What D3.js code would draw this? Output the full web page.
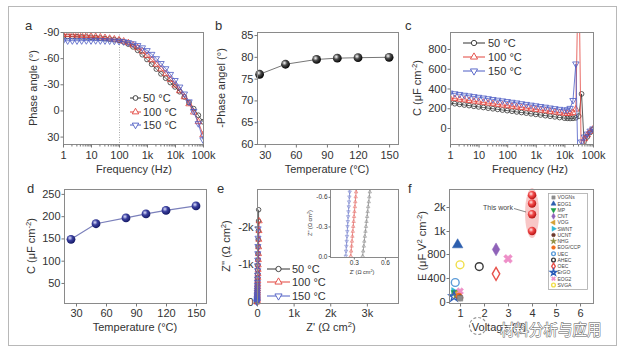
<!DOCTYPE html>
<html><head><meta charset="utf-8">
<script src="https://cdn.jsdelivr.net/npm/d3@7"></script>
<style>
body{margin:0;background:#fff}
svg{display:block}
</style></head><body>
<svg id="chart" width="625" height="353"></svg>
<script>
// ---------- DATA ----------
// panel a: phase angle vs frequency
const freqA = [1,1.468,2.154,3.162,4.642,6.813,10,14.68,21.54,31.62,46.42,68.13,100,146.8,215.4,316.2,464.2,681.3,1000,1468,2154,3162,4642,6813,10000,14678,21544,31623,46416,68129,100000];
const phase50 = [-85.0,-84.9,-84.8,-84.6,-84.4,-84.2,-83.9,-83.5,-83.0,-82.4,-81.8,-81.2,-80.5,-78.6,-76.1,-73.0,-69.0,-64.0,-58.5,-53.0,-47.5,-42.0,-37.0,-32.0,-27.0,-21.5,-15.5,-9.0,-2.0,5.5,13.0];
const phase100 = [-87.0,-86.8,-86.6,-86.3,-86.0,-85.6,-85.2,-84.7,-84.1,-83.4,-82.6,-81.8,-80.8,-79.4,-77.5,-75.0,-71.8,-67.8,-63.0,-58.0,-52.8,-47.5,-42.0,-35.5,-29.0,-22.5,-15.5,-7.5,2.0,13.0,28.0];
const phase150 = [-79.8,-80.0,-80.1,-80.0,-80.1,-80.2,-80.1,-80.2,-80.1,-80.0,-79.9,-79.7,-79.4,-78.9,-78.0,-76.6,-74.6,-72.0,-68.8,-64.5,-59.5,-54.0,-48.0,-41.5,-34.5,-27.0,-19.0,-10.0,1.0,15.0,33.5];
// panel b: -phase angle vs temperature
const tempB = [25,50,80,100,120,150];
const phaseB = [76.0,78.3,79.4,79.7,79.8,79.9];
// panel c: capacitance vs frequency
const freqC = [1,1.468,2.154,3.162,4.642,6.813,10,14.68,21.54,31.62,46.42,68.13,100,146.8,215.4,316.2,464.2,681.3,1000,1468,2154,3162,4642,6813,10000,12589,15849,19953,25119,31623,39811,50119,63096,79433,100000];
const cap50 = [252,246,240,233,227,220,214,208,201,195,189,182,176,170,163,157,151,144,138,132,125,119,113,106,100,98,97,98,103,120,345,-220,-90,-45,-15];
const cap100 = [303,297,290,284,277,271,264,258,251,245,238,232,225,219,213,206,200,193,187,180,174,167,161,154,148,146,147,155,190,1800,-600,-110,-70,-35,-12];
const cap150 = [355,348,341,333,326,319,312,305,298,290,283,276,269,262,255,247,240,233,226,219,212,204,197,190,183,185,200,280,650,-700,-140,-90,-60,-30,-8];
// panel d: capacitance vs temperature
const tempD = [25,50,80,100,120,150];
const capD = [148,183,196,205,213,223];
// panel e: Nyquist
const zRe50 = [45,41,37,34,31,28,25,23,21,19,17,15,13,12,10,9,8,7,6,5,4,3,2,1.5,1,0.5,0.3];
const zIm50 = [-2450,-2150,-1890,-1660,-1460,-1280,-1120,-980,-860,-750,-650,-560,-480,-410,-350,-295,-245,-200,-160,-125,-95,-70,-48,-30,-15,-5,0];
const zRe100 = [60,55,50,45,41,37,33,30,27,24,21,19,17,15,13,11,9,8,7,6,5,4,3,2,1,0.3];
const zIm100 = [-2150,-1890,-1660,-1460,-1280,-1120,-980,-860,-750,-650,-560,-480,-410,-350,-295,-245,-200,-160,-125,-95,-70,-48,-30,-15,-5,0];
const zRe150 = [30,27,24,22,20,18,16,14,12,11,10,9,8,7,6,5,4,3.5,3,2.5,2,1.5,1,0.5,0.2];
const zIm150 = [-1950,-1700,-1480,-1290,-1120,-970,-840,-720,-620,-530,-450,-380,-320,-265,-218,-178,-142,-110,-82,-58,-38,-22,-10,-3,0];
// panel e inset
const zImIn = [0,-0.05,-0.1,-0.15,-0.2,-0.25,-0.3,-0.35,-0.4,-0.45,-0.5,-0.55,-0.6,-0.65,-0.7];
const zReIn50 = [0.385,0.390,0.396,0.401,0.406,0.412,0.417,0.422,0.428,0.433,0.438,0.444,0.449,0.454,0.460];
const zReIn100 = [0.270,0.274,0.278,0.282,0.286,0.290,0.294,0.298,0.302,0.306,0.310,0.314,0.318,0.322,0.326];
const zReIn150 = [0.222,0.225,0.228,0.231,0.234,0.237,0.239,0.242,0.245,0.248,0.251,0.254,0.257,0.260,0.263];
// panel f: energy vs voltage
const legendNames = ["VOGNs","EOG1","MP","CNT","VOG","SWNT","UCNT","NHG","EOG/CCP","UEC","AHEC","OEC","ErGO","EOG2","SVGA"];
const refSeries = ["UEC","SWNT","MP","NHG","VOG","EOG2","ErGO","EOG/CCP","UCNT","VOGNs","EOG1","CNT","AHEC","OEC","EOG2","SVGA"];
const refVoltage = [0.8,0.75,0.8,0.85,0.9,1.0,0.75,0.95,1.0,1.0,0.9,2.5,1.8,2.5,3.0,1.0];
const refEnergy = [325,170,150,120,140,180,90,100,70,60,880,840,590,470,720,620];
const workVoltage = [4,4,4,4];
const workEnergy = [2500,2150,1700,1000];
// tick labels
const ticksPhaseA = [-90,-60,-30,0,30];
const ticksFreq = [1,10,100,1000,10000,100000];
const freqLabels = ["1","10","100","1k","10k","100k"];
const ticksTemp = [30,60,90,120,150];
const ticksPhaseB = [60,65,70,75,80,85];
const ticksCapC = [0,200,400,600,800];
const ticksCapD = [50,100,150,200,250];
const ticksZRe = [0,1000,2000,3000];
const zReLabels = ["0","1k","2k","3k"];
const ticksZIm = [0,-1000,-2000];
const zImLabels = ["0","-1k","-2k"];
const ticksInX = [0.3,0.6];
const ticksInY = [0,-0.3,-0.6];
const ticksV = [1,2,3,4,5,6];
const ticksE = [0,400,800,1000,2000];
const eLabels = ["0","400","800","1k","2k"];
const seriesNames = ["50 °C","100 °C","150 °C"];

// ---------- DRAWING ----------
const FONT = "'Liberation Sans', Arial, Helvetica, sans-serif";
const TXT = "#333";
const FS = 11;
const svg = d3.select("#chart").attr("font-family", FONT);
const defs = svg.append("defs");

svg.append("rect").attr("x",8.5).attr("y",6.5).attr("width",608).attr("height",339)
  .attr("fill","none").attr("stroke","#b8b8b8");

function grad(id, c0, c1, c2){
  const g = defs.append("radialGradient").attr("id",id).attr("cx","38%").attr("cy","35%").attr("r","65%");
  g.append("stop").attr("offset","0%").attr("stop-color",c0);
  g.append("stop").attr("offset","45%").attr("stop-color",c1);
  g.append("stop").attr("offset","100%").attr("stop-color",c2);
}
grad("gBlack","#ffffff","#4a4a4a","#050505");
grad("gNavy","#e0e3ff","#3a3f9e","#151a66");
grad("gRed","#ffe6e6","#f24a4a","#b81515");

function clip(id,x0,y0,x1,y1){
  defs.append("clipPath").attr("id",id).append("rect").attr("x",x0).attr("y",y0).attr("width",x1-x0).attr("height",y1-y0);
}
function box(x0,y0,x1,y1){
  svg.append("rect").attr("x",x0+.5).attr("y",y0+.5).attr("width",x1-x0).attr("height",y1-y0)
    .attr("fill","none").attr("stroke","#8a8a8a").attr("stroke-width",1);
}
function styleAxis(g, fs){
  g.select(".domain").remove();
  g.selectAll(".tick line").attr("stroke","#777");
  g.selectAll(".tick text").attr("font-size",fs||FS).attr("fill",TXT).attr("font-family",FONT);
}
function axisBottom(scale,y,vals,labels,minor,fs,size,pad){
  const g = svg.append("g").attr("transform",`translate(0,${y+0.5})`)
    .call(d3.axisBottom(scale).tickValues(vals).tickFormat((d,i)=>labels?labels[i]:d).tickSize(size||3).tickPadding(pad==null?4:pad));
  styleAxis(g,fs);
  if(minor){
    const m = svg.append("g").attr("transform",`translate(0,${y+0.5})`)
      .call(d3.axisBottom(scale).tickValues(minor).tickFormat(()=>"").tickSize(2));
    styleAxis(m);
  }
}
function axisLeft(scale,x,vals,labels,fs,size,pad){
  const g = svg.append("g").attr("transform",`translate(${x+0.5},0)`)
    .call(d3.axisLeft(scale).tickValues(vals).tickFormat((d,i)=>labels?labels[i]:d).tickSize(size||3).tickPadding(pad==null?1:pad));
  styleAxis(g,fs);
}
function txt(x,y,parts,o){
  o = o||{};
  const size = o.size||FS;
  const t = svg.append("text").attr("font-size",size).attr("text-anchor",o.anchor||"middle").attr("fill",o.fill||TXT);
  if(o.rotate) t.attr("transform",`translate(${x},${y}) rotate(-90)`); else t.attr("x",x).attr("y",y);
  let shifted=false;
  parts.forEach(p=>{
    if(typeof p==="object"){ t.append("tspan").attr("dy",-size*0.4).attr("font-size",size*0.7).text(p.sup); shifted=true; }
    else { const s=t.append("tspan").text(p); if(shifted){ s.attr("dy",size*0.4); shifted=false; } }
  });
  return t;
}
const minorLog = [];
for(let k=0;k<5;k++) for(let m=2;m<10;m++) minorLog.push(m*Math.pow(10,k));

const symCircle = d3.symbol().type(d3.symbolCircle);
const symTri = d3.symbol().type(d3.symbolTriangle);
const sStyles = [
  {c:"#333333", gen:symCircle, rot:0},
  {c:"#e2443d", gen:symTri, rot:0},
  {c:"#4d5cc4", gen:symTri, rot:180}
];

function drawSeries(g, xs, ys, xS, yS, st, size, sw, lineColor){
  const pts = xs.map((x,i)=>[xS(x), yS(ys[i])]);
  g.append("path").attr("d", d3.line()(pts)).attr("fill","none").attr("stroke",lineColor||st.c).attr("stroke-width",0.8);
  g.selectAll(null).data(pts).enter().append("path")
    .attr("d", st.gen.size(size)())
    .attr("transform", d=>`translate(${d[0]},${d[1]}) rotate(${st.rot})`)
    .attr("fill","none").attr("stroke",st.c).attr("stroke-width",sw||0.8);
}
function legendRow(x0,x1,xt,y,st,label,size){
  svg.append("line").attr("x1",x0).attr("x2",x1).attr("y1",y).attr("y2",y).attr("stroke",st.c).attr("stroke-width",1);
  svg.append("path").attr("d",st.gen.size(size||22)()).attr("transform",`translate(${(x0+x1)/2},${y}) rotate(${st.rot})`)
    .attr("fill","#fff").attr("stroke",st.c).attr("stroke-width",0.9);
  txt(xt,y+4,[label],{anchor:"start"});
}

// ===== Panel a =====
{
  const x = d3.scaleLog().domain([1,1e5]).range([63,203]);
  const y = d3.scaleLinear().domain([-90,38.5]).range([32,144]);
  clip("clipA",63,32,203,144);
  svg.append("line").attr("x1",x(100)+0.5).attr("x2",x(100)+0.5).attr("y1",32).attr("y2",144)
    .attr("stroke","#aaa").attr("stroke-dasharray","1,1.5");
  const g = svg.append("g").attr("clip-path","url(#clipA)");
  [phase50,phase100,phase150].forEach((s,i)=>drawSeries(g,freqA,s,x,y,sStyles[i],18,0.8));
  box(63,32,203,144);
  axisBottom(x,144,ticksFreq,freqLabels,minorLog);
  axisLeft(y,63,ticksPhaseA,null);
  seriesNames.forEach((n,i)=>legendRow(130,141,143,[98,112,125][i],sStyles[i],n,18));
  txt(25,30,["a"],{anchor:"start",size:13});
  txt(37,88,["Phase angle (°)"],{rotate:true});
  txt(134,173,["Frequency (Hz)"]);
}

// ===== Panel b =====
{
  const x = d3.scaleLinear().domain([22.5,158.6]).range([257,398]);
  const y = d3.scaleLinear().domain([60,85.7]).range([144,32]);
  const pts = tempB.map((t,i)=>[x(t),y(phaseB[i])]);
  svg.append("path").attr("d",d3.line()(pts)).attr("fill","none").attr("stroke","#777").attr("stroke-width",1);
  svg.selectAll(null).data(pts).enter().append("circle").attr("cx",d=>d[0]).attr("cy",d=>d[1]).attr("r",4.4).attr("fill","url(#gBlack)");
  box(257,32,398,144);
  axisBottom(x,144,ticksTemp,null);
  axisLeft(y,257,ticksPhaseB,null);
  txt(215,30,["b"],{anchor:"start",size:13});
  txt(225,88,["-Phase angel (°)"],{rotate:true});
  txt(327,173,["Temperature (°C)"]);
}

// ===== Panel c =====
{
  const x = d3.scaleLog().domain([1,1e5]).range([450,593]);
  const y = d3.scaleLinear().domain([-162,972]).range([144,32]);
  clip("clipC",450,32,593,144);
  const g = svg.append("g").attr("clip-path","url(#clipC)");
  [cap50,cap100,cap150].forEach((s,i)=>drawSeries(g,freqC,s,x,y,sStyles[i],18,0.8));
  box(450,32,593,144);
  axisBottom(x,144,ticksFreq,freqLabels,minorLog);
  axisLeft(y,450,ticksCapC,null);
  seriesNames.forEach((n,i)=>legendRow(463,485,488,[43,57,71][i],sStyles[i],n,22));
  txt(405,30,["c"],{anchor:"start",size:13});
  txt(421,88,["C (μF cm",{sup:"-2"},")"],{rotate:true});
  txt(530,173,["Frequency (Hz)"]);
}

// ===== Panel d =====
{
  const x = d3.scaleLinear().domain([18,160]).range([64,206]);
  const y = d3.scaleLinear().domain([5,261]).range([303,189]);
  const pts = tempD.map((t,i)=>[x(t),y(capD[i])]);
  svg.append("path").attr("d",d3.line()(pts)).attr("fill","none").attr("stroke","#7b80bb").attr("stroke-width",1.2);
  svg.selectAll(null).data(pts).enter().append("circle").attr("cx",d=>d[0]).attr("cy",d=>d[1]).attr("r",4.4).attr("fill","url(#gNavy)");
  box(64,189,206,303);
  axisBottom(x,303,ticksTemp,null,null,FS,3,3);
  axisLeft(y,64,ticksCapD,null);
  txt(27,193,["d"],{anchor:"start",size:13});
  txt(35,246,["C (μF cm",{sup:"-2"},")"],{rotate:true});
  txt(135,331,["Temperature (°C)"]);
}

// ===== Panel e =====
{
  const x = d3.scaleLinear().domain([0,3850]).range([257,398]);
  const y = d3.scaleLinear().domain([25,-3000]).range([303,189]);
  const g = svg.append("g");
  const sets = [[zRe50,zIm50],[zRe100,zIm100],[zRe150,zIm150]];
  sets.forEach((s,i)=>drawSeries(g,s[0],s[1],x,y,sStyles[i],16,0.8));
  box(257,189,398,303);
  axisBottom(x,303,ticksZRe,zReLabels,null,FS,3,3);
  axisLeft(y,257,ticksZIm,zImLabels);
  seriesNames.forEach((n,i)=>legendRow(267,290,292,[269,282,296][i],sStyles[i],n,22));
  txt(217,193,["e"],{anchor:"start",size:13});
  txt(230,246,["Z'' (Ω cm",{sup:"2"},")"],{rotate:true});
  txt(331,331,["Z' (Ω cm",{sup:"2"},")"]);
  // inset
  const xi = d3.scaleLinear().domain([0.07,0.726]).range([330,398]);
  const yi = d3.scaleLinear().domain([0.01,-0.68]).range([257,189]);
  svg.append("rect").attr("x",330).attr("y",189).attr("width",68).attr("height",68).attr("fill","#fff");
  clip("clipI",330,189,398,257);
  const gi = svg.append("g").attr("clip-path","url(#clipI)");
  const inStyles = [
    {c:"#8d8d8d", gen:d3.symbol().type(d3.symbolTriangle), rot:0},
    {c:"#e5706b", gen:d3.symbol().type(d3.symbolTriangle), rot:0},
    {c:"#7884cf", gen:d3.symbol().type(d3.symbolTriangle), rot:180}
  ];
  [zReIn50,zReIn100,zReIn150].forEach((s,i)=>drawSeries(gi,s,zImIn,xi,yi,inStyles[i],5,0.6));
  box(330,189,398,257);
  axisBottom(xi,257,ticksInX,["0.3","0.6"],null,6.5,2,1);
  axisLeft(yi,330,ticksInY,["0.0","-0.3","-0.6"],6.5,2,1);
  txt(312,223,["Z'' (Ω cm",{sup:"2"},")"],{rotate:true,size:5.5});
  txt(362,274,["Z' (Ω cm",{sup:"2"},")"],{size:5.5});
}

// ===== Panel f =====
{
  const x = d3.scaleLinear().domain([0.54,6.54]).range([449,593]);
  const y = d3.scaleLinear().domain([-17,800,1000,2000,2800]).range([303,254,231,207,188]);
  const S = {
    "VOGNs":{t:d3.symbolSquare,c:"#8c8c8c",f:true,r:0},
    "EOG1":{t:d3.symbolTriangle,c:"#2d5fae",f:true,r:0},
    "MP":{t:d3.symbolTriangle,c:"#20a04c",f:true,r:180},
    "CNT":{t:d3.symbolDiamond,c:"#8f62b9",f:true,r:0},
    "VOG":{t:d3.symbolTriangle,c:"#d6a133",f:true,r:-90},
    "SWNT":{t:d3.symbolTriangle,c:"#32b7d4",f:true,r:90},
    "UCNT":{t:d3.symbolCircle,c:"#6b3a2c",f:true,r:0},
    "NHG":{t:d3.symbolStar,c:"#8d8c3c",f:true,r:0},
    "EOG/CCP":{t:d3.symbolCircle,c:"#ef6d1e",f:true,r:0},
    "UEC":{t:d3.symbolCircle,c:"#5b9bd8",f:false,r:0},
    "AHEC":{t:d3.symbolCircle,c:"#3a3a3a",f:false,r:0},
    "OEC":{t:d3.symbolDiamond,c:"#e8524b",f:false,r:0},
    "ErGO":{t:d3.symbolStar,c:"#2c5db9",f:false,r:0},
    "EOG2":{t:d3.symbolCross,c:"#ee8fc8",f:true,r:45},
    "SVGA":{t:d3.symbolCircle,c:"#f0df4a",f:false,r:0}
  };
  function mark(sel,name,size){
    const s=S[name];
    sel.attr("d",d3.symbol().type(s.t).size(size)())
      .attr("fill",s.f?s.c:"none").attr("stroke",s.c).attr("stroke-width",s.f?0.5:1.4);
  }
  svg.append("ellipse").attr("cx",x(4)).attr("cy",(y(workEnergy[0])+y(workEnergy[3]))/2).attr("rx",7).attr("ry",25)
    .attr("fill","#f5b4b4").attr("opacity",0.75);
  refSeries.forEach((n,i)=>{
    const big = refVoltage[i]>1.5 || refEnergy[i]>300;
    svg.append("path").call(mark,n,big?48:30)
      .attr("transform",`translate(${x(refVoltage[i])},${y(refEnergy[i])}) rotate(${S[n].r})`);
  });
  svg.selectAll(null).data(workEnergy).enter().append("circle")
    .attr("cx",(d,i)=>x(workVoltage[i])).attr("cy",d=>y(d)).attr("r",4.2).attr("fill","url(#gRed)");
  txt(483,210,["This work"],{anchor:"start",size:7,fill:"#444"});
  svg.append("line").attr("x1",514).attr("y1",208.5).attr("x2",526).attr("y2",212).attr("stroke","#555").attr("stroke-width",0.7);
  svg.append("rect").attr("x",548.5).attr("y",193.5).attr("width",39).attr("height",96).attr("fill","#fff").attr("stroke","#aaa").attr("stroke-width",0.8);
  legendNames.forEach((n,i)=>{
    const yy = 197.5+i*6.25;
    svg.append("path").call(mark,n,11).attr("transform",`translate(553.5,${yy}) rotate(${S[n].r})`);
    txt(557.5,yy+1.8,[n],{anchor:"start",size:5,fill:"#444"});
  });
  box(449,189,593,303);
  axisBottom(x,303,ticksV,null,null,FS,3,3);
  axisLeft(y,449,ticksE,eLabels);
  txt(408,193,["f"],{anchor:"start",size:13});
  txt(426,246,["E (μF V",{sup:"2"}," cm",{sup:"-2"},")"],{rotate:true});
  txt(499,331,["Voltage (V)"]);
  // watermark
  svg.append("circle").attr("cx",478).attr("cy",326).attr("r",8.5).attr("fill","none").attr("stroke","#999").attr("stroke-width",1.2).attr("stroke-dasharray","3,2");
  svg.append("text").attr("x",500).attr("y",335).attr("font-size",14.5).attr("font-family","'Noto Sans CJK SC', sans-serif")
    .attr("fill","#fff").attr("stroke","#555").attr("stroke-width",0.9).attr("paint-order","stroke").text("材料分析与应用");
}
</script></body></html>
